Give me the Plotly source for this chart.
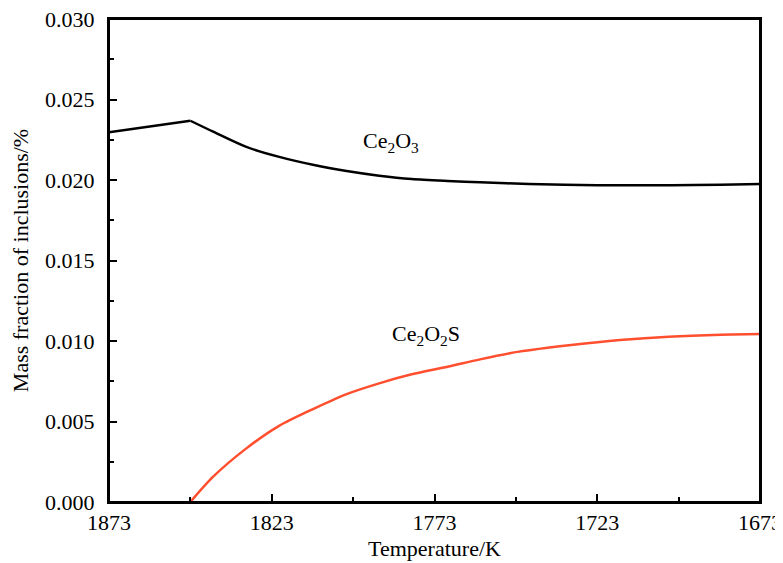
import plotly.graph_objects as go

# Ce2O3 series
t_ce2o3 = [1873, 1848, 1841, 1831, 1821, 1810, 1800, 1790, 1780, 1769, 1759, 1744, 1723, 1700, 1685, 1673]
v_ce2o3 = [0.02296, 0.02368, 0.0230, 0.02207, 0.02145, 0.02093, 0.02056, 0.02027, 0.02006, 0.01994, 0.01986,
           0.01975, 0.01968, 0.01968, 0.01971, 0.01975]

# Ce2O2S series
t_ce2o2s = [1848, 1841, 1831, 1821, 1810, 1800, 1790, 1780, 1769, 1759, 1747, 1731, 1716, 1701, 1685, 1673]
v_ce2o2s = [0.0, 0.00157, 0.0033, 0.0047, 0.0058, 0.0067, 0.00737, 0.00793, 0.0084, 0.00886, 0.00934,
            0.00975, 0.01006, 0.01027, 0.01039, 0.01043]

x_ticks = [1873, 1823, 1773, 1723, 1673]
x_minor = [1848, 1798, 1748, 1698]
y_ticks = [0.000, 0.005, 0.010, 0.015, 0.020, 0.025, 0.030]
y_ticklabels = ["0.000", "0.005", "0.010", "0.015", "0.020", "0.025", "0.030"]
y_minor = [0.0025, 0.0075, 0.0125, 0.0175, 0.0225, 0.0275]

FONT = "Liberation Serif"

fig = go.Figure()
# rising part up to the peak (straight), then smooth decay
fig.add_trace(go.Scatter(x=t_ce2o3[:2], y=v_ce2o3[:2], mode="lines",
                         line=dict(color="black", width=2.5), showlegend=False))
fig.add_trace(go.Scatter(x=t_ce2o3[1:], y=v_ce2o3[1:], mode="lines",
                         line=dict(color="black", width=2.5, shape="spline", smoothing=0.8), showlegend=False))
fig.add_trace(go.Scatter(x=t_ce2o2s, y=v_ce2o2s, mode="lines",
                         line=dict(color="#ff4f2e", width=2.5, shape="spline", smoothing=0.8), showlegend=False))

fig.add_annotation(x=1786.5, y=0.02234, text="Ce<sub>2</sub>O<sub>3</sub>", showarrow=False,
                   font=dict(family=FONT, size=22, color="black"))
fig.add_annotation(x=1775.7, y=0.01037, text="Ce<sub>2</sub>O<sub>2</sub>S", showarrow=False,
                   font=dict(family=FONT, size=22, color="black"))

# full frame around the plot area
fig.add_shape(type="rect", xref="paper", yref="paper", x0=0, x1=1, y0=0, y1=1,
              line=dict(color="black", width=2), layer="above")

axis_common = dict(showgrid=False, zeroline=False, showline=True, linecolor="black", linewidth=2,
                   mirror=True, ticks="inside", tickcolor="black", tickwidth=2, ticklen=8,
                   automargin=False, ticklabeloverflow="allow",
                   tickfont=dict(family=FONT, size=22, color="black"))

fig.update_xaxes(range=[1873, 1673], tickvals=x_ticks, ticktext=[str(v) for v in x_ticks],
                 minor=dict(ticks="inside", ticklen=5, tickwidth=2, tickcolor="black", tickvals=x_minor),
                 ticklabelstandoff=0,
                 title=dict(text="Temperature/K", font=dict(family=FONT, size=22, color="black"), standoff=6),
                 **axis_common)
fig.update_yaxes(range=[0, 0.030], tickvals=y_ticks, ticktext=y_ticklabels,
                 minor=dict(ticks="inside", ticklen=5, tickwidth=2, tickcolor="black", tickvals=y_minor),
                 ticklabelstandoff=8,
                 title=dict(text="Mass fraction of inclusions/%", font=dict(family=FONT, size=22, color="black"), standoff=10),
                 **axis_common)

# page body adds an 8px margin, so the figure is sized/offset to land the plot area at the reference position
fig.update_layout(width=775, height=555, margin=dict(l=101, r=23, t=11, b=61),
                  plot_bgcolor="white", paper_bgcolor="white")

fig.write_html("out.html")
